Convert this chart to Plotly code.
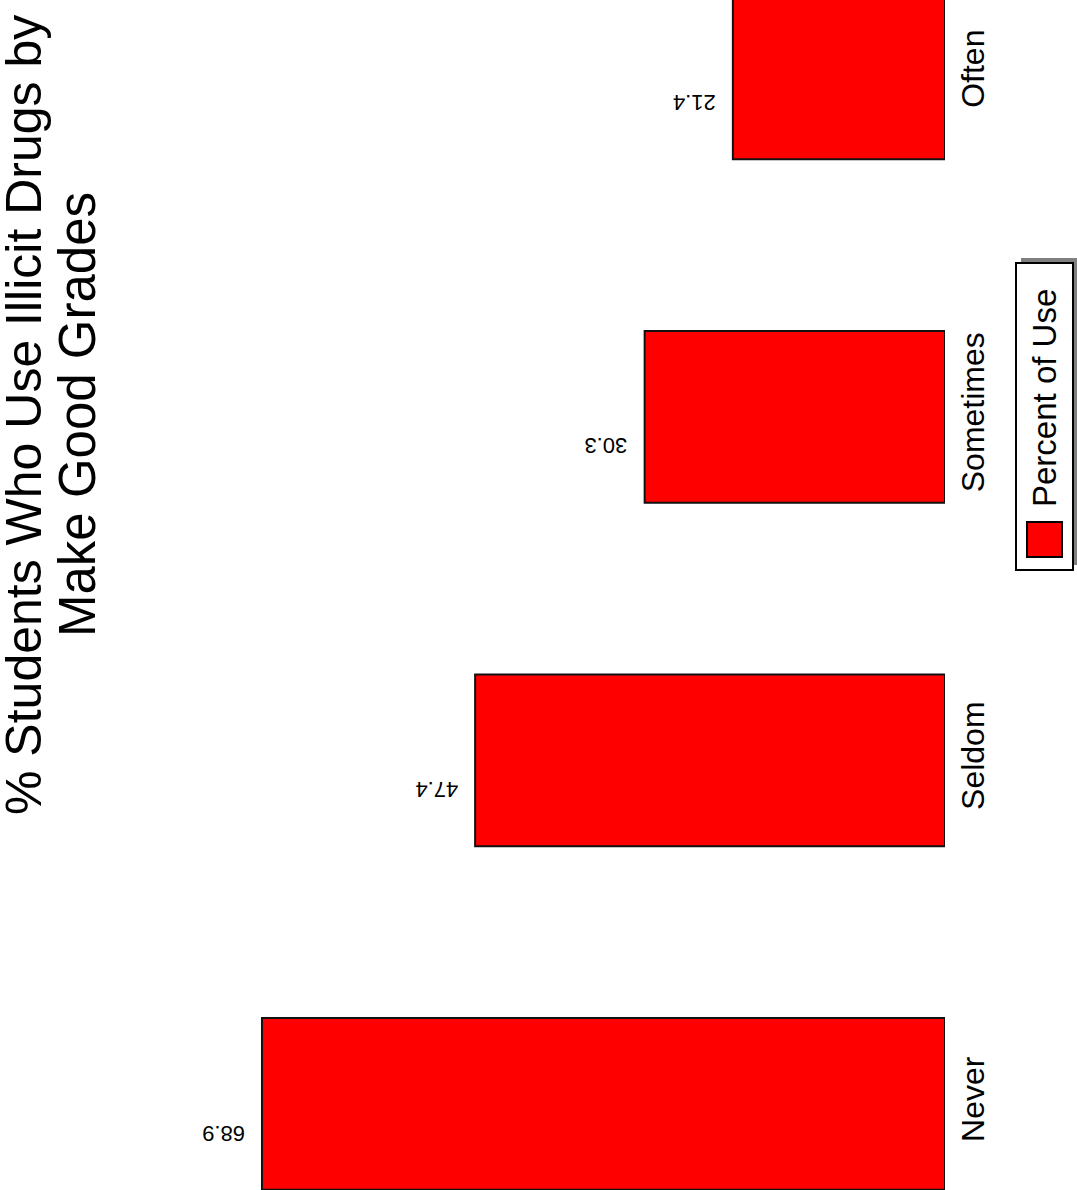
import plotly.graph_objects as go

categories = ["Never", "Seldom", "Sometimes", "Often"]
percent_use = [68.9, 47.4, 30.3, 21.4]
value_labels = ["68.9", "47.4", "30.3", "21.4"]
series_name = "Percent of Use"
title_lines = ["% Students Who Use Illicit Drugs by", "Make Good Grades"]

W, H = 1077, 1190
L, R, T, B = 0, 132, 0, 0
PW = W - L - R
PH = H - T - B
FONT = "Liberation Sans, Arial, sans-serif"
RED = "#ff0000"


# page pixel -> paper coords
def px(x):
    return (x - L) / PW


def py(y):
    return 1 - (y - T) / PH


fig = go.Figure()

fig.add_trace(go.Bar(
    y=categories, x=percent_use, orientation="h",
    marker=dict(color=RED, line=dict(color="#111111", width=2)),
    width=0.5, name=series_name, showlegend=False, hoverinfo="x+y"
))

# value labels (upside-down, as in the original)
for cat, val, lab in zip(categories, percent_use, value_labels):
    fig.add_annotation(
        x=val, y=cat, xref="x", yref="y", text=lab, textangle=180,
        showarrow=False, xanchor="right", yanchor="middle",
        xshift=-15, yshift=-29,
        font=dict(family=FONT, size=22, color="black")
    )

# title, rotated
fig.add_annotation(
    x=px(24), y=py(415), xref="paper", yref="paper", text=title_lines[0],
    textangle=-90, showarrow=False, xanchor="center", yanchor="middle",
    font=dict(family=FONT, size=50, color="black")
)
fig.add_annotation(
    x=px(77), y=py(415), xref="paper", yref="paper", text=title_lines[1],
    textangle=-90, showarrow=False, xanchor="center", yanchor="middle",
    font=dict(family=FONT, size=51, color="black")
)

# legend, drawn rotated
fig.add_shape(type="rect", xref="paper", yref="paper",
              x0=px(1021), x1=px(1077), y0=py(565), y1=py(258),
              fillcolor="#808080", line=dict(width=0), layer="below")
fig.add_shape(type="rect", xref="paper", yref="paper",
              x0=px(1016), x1=px(1073), y0=py(570), y1=py(263),
              fillcolor="white", line=dict(color="black", width=2))
fig.add_shape(type="rect", xref="paper", yref="paper",
              x0=px(1027), x1=px(1062), y0=py(557), y1=py(522),
              fillcolor=RED, line=dict(color="black", width=2))
fig.add_annotation(
    x=px(1045), y=py(398), xref="paper", yref="paper", text=series_name,
    textangle=-90, showarrow=False, xanchor="center", yanchor="middle",
    font=dict(family=FONT, size=33, color="black")
)

fig.update_layout(
    width=W, height=H,
    margin=dict(l=L, r=R, t=T, b=B, pad=0),
    plot_bgcolor="white", paper_bgcolor="white",
    showlegend=False,
    font=dict(family=FONT, color="black")
)
fig.update_xaxes(range=[(945 - L) / 9.913, 0], visible=False, fixedrange=True)
fig.update_yaxes(
    type="category", range=[-0.2504, 1104 / 343.5], side="right",
    tickangle=-90, tickfont=dict(family=FONT, size=32, color="black"),
    showgrid=False, zeroline=False, showline=False, ticks="",
    ticklabelstandoff=6
)

fig.write_html("out.html", config={"displayModeBar": False},
               post_script="document.body.style.margin='0';")
